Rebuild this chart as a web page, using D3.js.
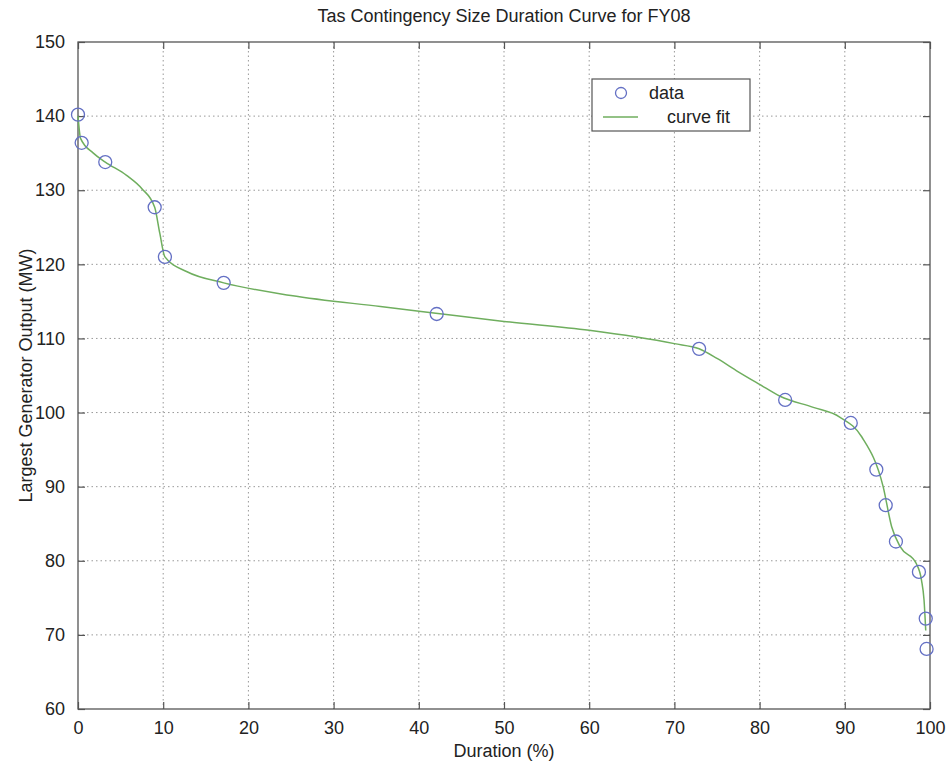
<!DOCTYPE html>
<html>
<head>
<meta charset="utf-8">
<script src="https://cdn.jsdelivr.net/npm/d3@7"></script>
<style>
  body { margin: 0; background: #fff; }
  svg text { font-family: "Liberation Sans", Arial, sans-serif; fill: #222; }
</style>
</head>
<body>
<svg id="chart"></svg>
<script>
// Measured data points
const durationPct = [0, 0.43, 3.2, 9.0, 10.2, 17.1, 42.1, 72.9, 83.0, 90.7, 93.7, 94.8, 96.0, 98.7, 99.5, 99.6];
const outputMW = [140.2, 136.4, 133.8, 127.7, 121.0, 117.5, 113.3, 108.6, 101.7, 98.6, 92.3, 87.5, 82.6, 78.5, 72.2, 68.1];

// Curve fit
const fitDuration = [0, 0.3, 1.8, 3.2, 5.7, 7.5, 9.0, 9.6, 10.2, 12.8, 17.1, 25, 35.5, 42, 50, 60, 70, 72.9, 75, 77.5, 80, 82.4, 86.3, 89.4, 92.0, 94.5, 95.5, 96.5, 98.4, 99.0, 99.3, 99.5];
const fitMW = [140, 137, 135.0, 133.8, 132.0, 130.2, 127.7, 124.2, 121.0, 119.0, 117.5, 115.8, 114.3, 113.4, 112.3, 111.1, 109.3, 108.6, 107.3, 105.5, 103.8, 102.2, 100.7, 99.4, 96.7, 90, 84.6, 81.9, 79.6, 77.4, 74.7, 70.6];

const xTicks = [0, 10, 20, 30, 40, 50, 60, 70, 80, 90, 100];
const yTicks = [60, 70, 80, 90, 100, 110, 120, 130, 140, 150];

const width = 948, height = 763;
const margin = { top: 42, right: 18, bottom: 54, left: 78 };
const innerW = width - margin.left - margin.right;
const innerH = height - margin.top - margin.bottom;

const svg = d3.select('#chart').attr('width', width).attr('height', height);
const g = svg.append('g').attr('transform', `translate(${margin.left},${margin.top})`);

const x = d3.scaleLinear().domain([0, 100]).range([0, innerW]);
const y = d3.scaleLinear().domain([60, 150]).range([innerH, 0]);

// Dotted grid
g.selectAll('.vgrid')
    .data(xTicks.slice(1, -1))
    .enter().append('line')
    .attr('x1', d => x(d)).attr('x2', d => x(d))
    .attr('y1', 0).attr('y2', innerH)
    .attr('stroke', '#999').attr('stroke-dasharray', '1.5,3');

g.selectAll('.hgrid')
    .data(yTicks.slice(1, -1))
    .enter().append('line')
    .attr('x1', 0).attr('x2', innerW)
    .attr('y1', d => y(d)).attr('y2', d => y(d))
    .attr('stroke', '#999').attr('stroke-dasharray', '1.5,3');

// Axes with inward ticks on all four sides
function styleAxis(sel) {
    sel.select('.domain').remove();
    sel.selectAll('line').attr('stroke', '#555').attr('stroke-width', 1.2);
    sel.selectAll('text').style('font-size', '18px').attr('fill', '#222');
}

g.append('g')
    .attr('transform', `translate(0,${innerH})`)
    .call(d3.axisBottom(x).tickValues(xTicks).tickSize(-7).tickPadding(12))
    .call(styleAxis);

g.append('g')
    .call(d3.axisLeft(y).tickValues(yTicks).tickSize(-7).tickPadding(13))
    .call(styleAxis);

g.append('g')
    .call(d3.axisTop(x).tickValues(xTicks).tickSize(-7).tickFormat(''))
    .call(styleAxis);

g.append('g')
    .attr('transform', `translate(${innerW},0)`)
    .call(d3.axisRight(y).tickValues(yTicks).tickSize(-7).tickFormat(''))
    .call(styleAxis);

// Frame
g.append('rect')
    .attr('width', innerW).attr('height', innerH)
    .attr('fill', 'none').attr('stroke', '#555').attr('stroke-width', 1.3);

// Curve fit
const line = d3.line()
    .x((d, i) => x(fitDuration[i]))
    .y(d => y(d))
    .curve(d3.curveMonotoneX);

g.append('path')
    .datum(fitMW)
    .attr('fill', 'none')
    .attr('stroke', '#6fae5e')
    .attr('stroke-width', 1.5)
    .attr('d', line);

// Data markers
g.selectAll('.pt')
    .data(outputMW)
    .enter().append('circle')
    .attr('cx', (d, i) => x(durationPct[i]))
    .attr('cy', d => y(d))
    .attr('r', 6.5)
    .attr('fill', 'none')
    .attr('stroke', '#6470c4')
    .attr('stroke-width', 1.3);

// Title and labels
svg.append('text')
    .attr('x', margin.left + innerW / 2).attr('y', 22)
    .attr('text-anchor', 'middle')
    .style('font-size', '18px')
    .text('Tas Contingency Size Duration Curve for FY08');

svg.append('text')
    .attr('x', margin.left + innerW / 2).attr('y', 757)
    .attr('text-anchor', 'middle')
    .style('font-size', '18px')
    .text('Duration (%)');

svg.append('text')
    .attr('transform', `translate(32,${margin.top + innerH / 2}) rotate(-90)`)
    .attr('text-anchor', 'middle')
    .style('font-size', '18px')
    .text('Largest Generator Output (MW)');

// Legend
const legend = svg.append('g').attr('transform', 'translate(592,79)');
legend.append('rect')
    .attr('width', 158).attr('height', 52)
    .attr('fill', '#fff').attr('stroke', '#555').attr('stroke-width', 1.2);
legend.append('circle')
    .attr('cx', 29).attr('cy', 14).attr('r', 5.5)
    .attr('fill', 'none').attr('stroke', '#6470c4').attr('stroke-width', 1.3);
legend.append('text')
    .attr('x', 57).attr('y', 20)
    .style('font-size', '18px')
    .text('data');
legend.append('line')
    .attr('x1', 11).attr('x2', 46).attr('y1', 38).attr('y2', 38)
    .attr('stroke', '#6fae5e').attr('stroke-width', 1.5);
legend.append('text')
    .attr('x', 75).attr('y', 44)
    .style('font-size', '18px')
    .text('curve fit');
</script>
</body>
</html>
